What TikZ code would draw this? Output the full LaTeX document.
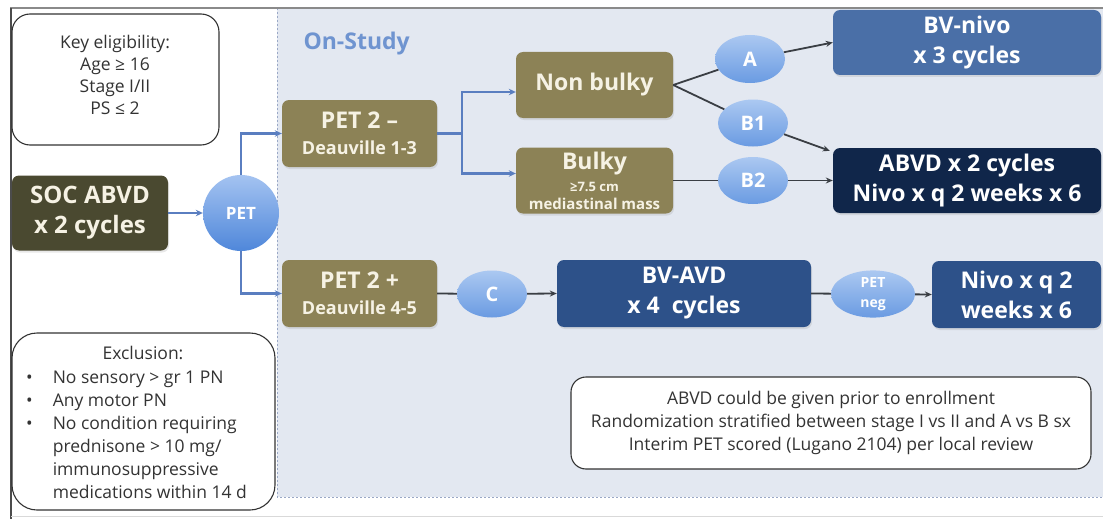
\documentclass[tikz,border=0pt]{standalone}
\usepackage{fontspec}
\setmainfont{Open Sans}
\usetikzlibrary{calc,arrows.meta,shapes.geometric,shadows}
\definecolor{cOlive}{HTML}{8C8256}
\definecolor{cCream}{HTML}{F6F2E4}
\definecolor{cSoc}{HTML}{4A4930}
\definecolor{cBVnivo}{HTML}{4A6FA7}
\definecolor{cAbvd}{HTML}{10264A}
\definecolor{cBvavd}{HTML}{2D5189}
\definecolor{cEllTop}{HTML}{ABC8F1}
\definecolor{cEllBot}{HTML}{6A9BE2}
\definecolor{cPetTop}{HTML}{A4C3F1}
\definecolor{cPetBot}{HTML}{4F87DA}
\definecolor{cBg}{HTML}{E3E8F1}
\definecolor{cBlueLine}{HTML}{5A7EC0}
\definecolor{cDark}{HTML}{3A3E44}
\definecolor{cOnStudy}{HTML}{6F94D0}
\definecolor{cTxt}{HTML}{333333}
\definecolor{cFrame}{HTML}{8A8A8A}
\definecolor{cDash}{HTML}{9AA8C6}
\begin{document}
\begin{tikzpicture}[x=1pt,y=-1pt,
  xbox/.style={rectangle, rounded corners=7pt, inner sep=0pt, align=center,
    drop shadow={opacity=0.18, shadow xshift=1pt, shadow yshift=-2pt}},
  olivebox/.style={xbox, fill=cOlive, text=cCream},
  bluebox/.style={xbox, text=white, font=\bfseries\fontsize{23}{30}\selectfont},
  ell/.style={ellipse, inner sep=0pt, align=center, top color=cEllTop, bottom color=cEllBot, text=white,
    font=\bfseries\fontsize{20}{22}\selectfont},
  barrow/.style={draw=cBlueLine, line width=2.2pt, -{Stealth[length=7pt,width=6.5pt]}},
  bline/.style={draw=cBlueLine, line width=2.2pt},
  dline/.style={draw=cDark, line width=1.8pt},
  darrow/.style={dline, -{Stealth[length=7pt,width=6pt]}},
  notebox/.style={draw=cTxt, line width=1.1pt, fill=white, text=cTxt, align=center, inner sep=0pt},
  plaintxt/.style={text=cTxt, font=\fontsize{17.5}{22}\selectfont, align=center, inner sep=0pt}
]
\useasboundingbox (0,0) rectangle (1103,519);
\fill[white] (0,0) rectangle (1103,519);
% on-study region
\fill[cBg] (277,8) rectangle (1103,497);
\draw[cDash, line width=0.9pt, dash pattern=on 2pt off 2pt] (277,8) -- (277,497) -- (1103,497);
% frame lines
\draw[cFrame, line width=1.6pt] (10,8) -- (1103,8);
\draw[black!70, line width=1.2pt] (11,8) -- (11,519);
\draw[black!15, line width=0.8pt] (11,516) -- (1103,516);

\node[font=\bfseries\fontsize{23}{25}\selectfont, text=cOnStudy, anchor=west] (onstudy) at (300,44) {On-Study};

% left side
\node[notebox, rounded corners=18pt, minimum width=207, minimum height=131] (keyel) at (115.5,79.5) {};
\node[plaintxt] (keyelt) at (115,75) {Key eligibility:\\Age ≥ 16\\Stage I/II\\PS ≤ 2};

\node[xbox, fill=cSoc, text=cCream, minimum width=156, minimum height=75,
  font=\bfseries\fontsize{24}{30}\selectfont] (soc) at (90,213) {SOC ABVD\\x 2 cycles};

\node[circle, minimum size=76, inner sep=0pt, top color=cPetTop, bottom color=cPetBot,
  text=white, font=\bfseries\fontsize{17}{19}\selectfont] (pet) at (241,213) {PET};

\node[notebox, rounded corners=25pt, minimum width=263, minimum height=177] (excl) at (143.5,421.5) {};
\node[text=cTxt, font=\fontsize{17.5}{23}\selectfont, anchor=base, inner sep=0pt] (exclt) at (143,359) {Exclusion:};
\node[text=cTxt, font=\fontsize{17.5}{23}\selectfont, anchor=base west, inner sep=0pt] (excll) at (26,383)
  {\begin{tabular}[t]{@{}l@{\hspace{20pt}}l@{}}
   • & No sensory > gr 1 PN\\
   • & Any motor PN\\
   • & No condition requiring\\
     & prednisone > 10 mg/\\
     & immunosuppressive\\
     & medications within 14 d
   \end{tabular}};

% PET 2 boxes
\node[olivebox, minimum width=155, minimum height=67, font=\bfseries\fontsize{18}{26}\selectfont] (pet2m) at (359.5,133.5)
  {{\fontsize{23}{26}\selectfont PET 2 –}\\Deauville 1-3};
\node[olivebox, minimum width=155, minimum height=67, font=\bfseries\fontsize{18}{26}\selectfont] (pet2p) at (359.5,293.5)
  {{\fontsize{23}{26}\selectfont PET 2 +}\\Deauville 4-5};

\node[olivebox, minimum width=157, minimum height=66, font=\bfseries\fontsize{23}{26}\selectfont] (nonbulky) at (594.5,85) {Non bulky};
\node[olivebox, minimum width=157, minimum height=66, font=\bfseries\fontsize{13}{18}\selectfont] (bulky) at (594.5,180.5)
  {{\fontsize{23}{26}\selectfont Bulky}\\[4pt]≥7.5 cm\\{\fontsize{15}{18}\selectfont mediastinal mass}};

% ellipses
\node[ell, minimum width=70, minimum height=48] (A) at (750,59) {A};
\node[ell, minimum width=70, minimum height=47] (B1) at (753,123) {B1};
\node[ell, minimum width=70, minimum height=47] (B2) at (753,180.5) {B2};
\node[ell, minimum width=70, minimum height=47] (C) at (492,294) {C};
\node[ell, minimum width=84, minimum height=46, font=\bfseries\fontsize{14}{20}\selectfont] (petneg) at (873,294) {PET\\neg};

% right boxes
\node[bluebox, fill=cBVnivo, minimum width=268, minimum height=65] (bvnivo) at (967,42.5) {BV-nivo\\x 3 cycles};
\node[bluebox, fill=cAbvd, minimum width=268, minimum height=65] (abvd) at (967,180.5) {ABVD x 2 cycles\\Nivo x q 2 weeks x 6};
\node[bluebox, fill=cBvavd, minimum width=254, minimum height=67] (bvavd) at (684,293.5) {BV-AVD\\x 4~ cycles};
\node[bluebox, fill=cBvavd, minimum width=169, minimum height=67] (nivo) at (1016.5,294.5) {Nivo x q 2\\weeks x 6};

% note
\node[notebox, rounded corners=15pt, minimum width=520, minimum height=92, font=\fontsize{17.5}{23}\selectfont] (note) at (831,423)
  {ABVD could be given prior to enrollment\\Randomization stratified between stage I vs II and A vs B sx\\Interim PET scored (Lugano 2104) per local review};

% connectors
\draw[barrow] (soc.east) -- (pet.west);
\draw[barrow] (pet.north) |- (pet2m.west);
\draw[barrow] (pet.south) |- (pet2p.west);
\coordinate (split) at ($(pet2m.east)+(25,0)$);
\draw[bline] (pet2m.east) -- (split);
\draw[barrow] (split) |- ($(nonbulky.west)+(0,7)$);
\draw[barrow] (split) |- ($(bulky.west)+(0,-7)$);

\draw[dline] (nonbulky.east) -- (A);
\draw[dline] (nonbulky.east) -- (B1);
\draw[darrow] (A) -- (bvnivo.west);
\draw[darrow] (B1) -- ($(abvd.north west)+(-3,3)$);
\draw[dline] (bulky.east) -- (B2);
\draw[darrow] (B2) -- (abvd.west);

\draw[dline] (pet2p.east) -- (C);
\draw[darrow] (C) -- (bvavd.west);
\draw[dline] (bvavd.east) -- (petneg);
\draw[darrow] (petneg) -- (nivo.west);
\end{tikzpicture}
\end{document}
